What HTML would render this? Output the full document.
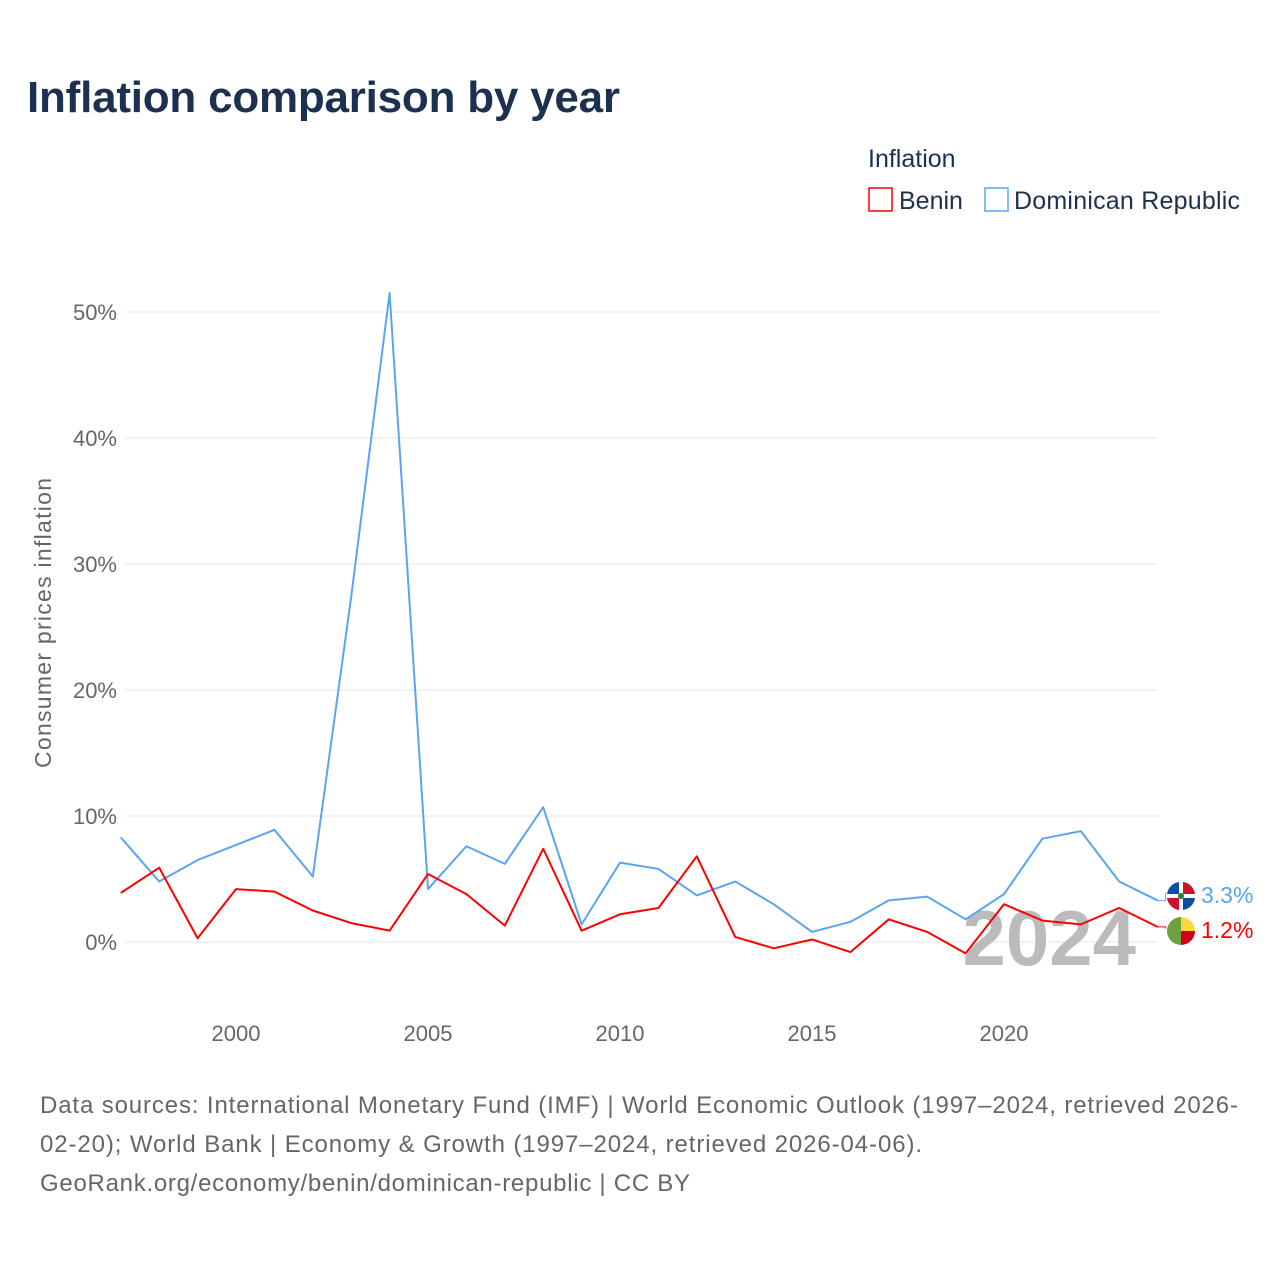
<!DOCTYPE html>
<html><head><meta charset="utf-8"><style>
body{margin:0;background:#fff;font-family:"Liberation Sans",sans-serif;}
svg{display:block}
</style></head><body>
<svg id="chart" width="1280" height="1280" xmlns="http://www.w3.org/2000/svg">
<rect width="1280" height="1280" fill="#fff"/>
<text x="27" y="112" font-size="44" font-weight="bold" fill="#1c3050" textLength="593">Inflation comparison by year</text>
<text x="868" y="167" font-size="25" fill="#1c3050">Inflation</text>
<g><rect x="869" y="188" width="23" height="23" fill="none" stroke="#ff0000" stroke-width="1.5"/><text x="899" y="209" font-size="25" fill="#1c3050">Benin</text></g>
<g><rect x="985" y="188" width="23" height="23" fill="none" stroke="#5aa5f0" stroke-width="1.5"/><text x="1014" y="209" font-size="25" fill="#1c3050" textLength="226">Dominican Republic</text></g>
<text transform="translate(51,623) rotate(-90)" text-anchor="middle" font-size="23" fill="#666" textLength="290">Consumer prices inflation</text>
<g id="grid"></g><g id="yt"></g><g id="xt"></g>
<text x="1136" y="965" text-anchor="end" font-size="78" font-weight="bold" fill="#bbb">2024</text>
<g id="lines"></g><g id="ends"></g>
<g font-size="24" fill="#666">
<text x="40" y="1113" textLength="1198">Data sources: International Monetary Fund (IMF) | World Economic Outlook (1997–2024, retrieved 2026-</text>
<text x="40" y="1152" textLength="882">02-20); World Bank | Economy &amp; Growth (1997–2024, retrieved 2026-04-06).</text>
<text x="40" y="1191" textLength="650">GeoRank.org/economy/benin/dominican-republic | CC BY</text>
</g>
</svg>
<script>
const years=[1997,1998,1999,2000,2001,2002,2003,2004,2005,2006,2007,2008,2009,2010,2011,2012,2013,2014,2015,2016,2017,2018,2019,2020,2021,2022,2023,2024];
const benin=[3.9,5.9,0.3,4.2,4.0,2.5,1.5,0.9,5.4,3.8,1.3,7.4,0.9,2.2,2.7,6.8,0.4,-0.5,0.2,-0.8,1.8,0.8,-0.9,3.0,1.7,1.4,2.7,1.2];
const dr=[8.3,4.8,6.5,7.7,8.9,5.2,27.4,51.5,4.2,7.6,6.2,10.7,1.4,6.3,5.8,3.7,4.8,3.0,0.8,1.6,3.3,3.6,1.8,3.8,8.2,8.8,4.8,3.3];
const yTicks=[0,10,20,30,40,50];
const xTicks=[2000,2005,2010,2015,2020];
const NS="http://www.w3.org/2000/svg";
const X=v=>120.8+(v-1997)*38.4;
const Y=v=>942-v*12.6;
function mk(t,a,p){const e=document.createElementNS(NS,t);for(const k in a)e.setAttribute(k,a[k]);p.appendChild(e);return e;}
const g=document.getElementById('grid'),yt=document.getElementById('yt'),xt=document.getElementById('xt');
yTicks.forEach(v=>{
 const l=mk('line',{x1:125,x2:1157,y1:Y(v),y2:Y(v),stroke:'#e6e6e6','stroke-width':1},g);
 
 
 const t=mk('text',{x:117,y:Y(v)+8,'text-anchor':'end','font-size':22,fill:'#666'},yt);
 t.textContent=v+'%';
 
 
});
xTicks.forEach(v=>{
 const t=mk('text',{x:X(v),y:1041,'text-anchor':'middle','font-size':22,fill:'#666'},xt);
 t.textContent=v;
 
 
});
const L=document.getElementById('lines');
[[dr,'#5aa5f0','line-dominican-republic'],[benin,'#ff0000','line-benin']].forEach(([d,c,n])=>{
 const p=mk('polyline',{points:d.map((v,i)=>X(years[i])+','+Y(v)).join(' '),fill:'none',stroke:c,'stroke-width':2,'stroke-linejoin':'round'},L);
 
 
});
const E=document.getElementById('ends');
const last=years.length-1;
[[dr,'#5aa5f0',893,'end-label-dominican-republic',['#0b4ea2','#ce1126','#ce1126','#0b4ea2']],[benin,'#ff0000',928,'end-label-benin',null]].forEach(([d,c,ly,n,f])=>{
 const gg=mk('g',{},E);
 
 
 mk('polyline',{points:`${X(years[last])},${Y(d[last])} ${X(years[last])+8},${Y(d[last])} ${X(years[last])+8},${ly} 1166,${ly}`,fill:'none',stroke:c,'stroke-width':1},gg);
 const cx=1181;
 if(f){
  mk('circle',{cx:cx,cy:ly+3,r:14,fill:'#fff'},gg);
  mk('path',{d:`M${cx-14},${ly+1} A14 14 0 0 1 ${cx-2},${ly-11} L${cx-2},${ly+1}Z`,fill:f[0]},gg);
  mk('path',{d:`M${cx+2},${ly-11} A14 14 0 0 1 ${cx+14},${ly+1} L${cx+2},${ly+1}Z`,fill:f[1]},gg);
  mk('path',{d:`M${cx-14},${ly+5} L${cx-2},${ly+5} L${cx-2},${ly+17} A14 14 0 0 1 ${cx-14},${ly+5}Z`,fill:f[2]},gg);
  mk('path',{d:`M${cx+2},${ly+5} L${cx+14},${ly+5} A14 14 0 0 1 ${cx+2},${ly+17}Z`,fill:f[3]},gg);
  mk('circle',{cx:cx,cy:ly+3,r:3,fill:'#2a7a3a'},gg);
 }else{
  mk('path',{d:`M${cx},${ly-11} A14 14 0 0 0 ${cx},${ly+17}Z`,fill:'#6ea040'},gg);
  mk('path',{d:`M${cx},${ly-11} A14 14 0 0 1 ${cx+14},${ly+3} L${cx},${ly+3}Z`,fill:'#fcd83c'},gg);
  mk('path',{d:`M${cx},${ly+3} L${cx+14},${ly+3} A14 14 0 0 1 ${cx},${ly+17}Z`,fill:'#d0021b'},gg);
 }
 const t=mk('text',{x:1201,y:ly+10,'font-size':23,fill:c},gg);
 t.textContent=d[last].toFixed(1)+'%';
});
</script>
</body></html>
